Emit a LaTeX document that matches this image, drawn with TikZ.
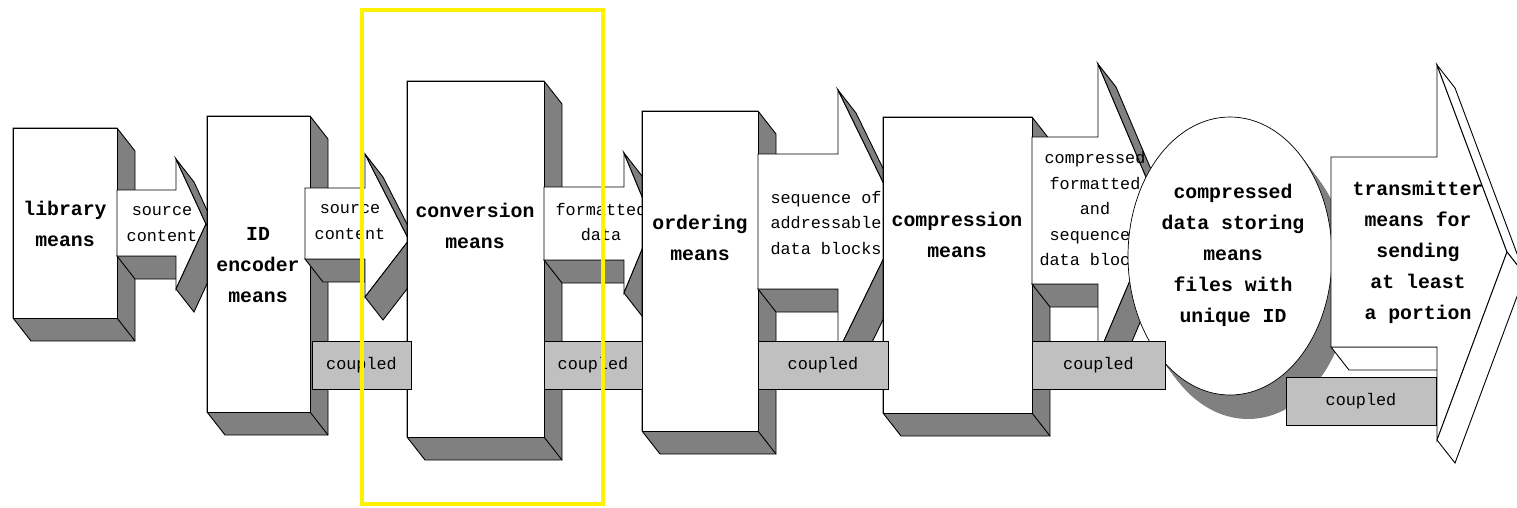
\documentclass[tikz,border=0pt]{standalone}
\usepackage{fontspec}
\setmonofont{Liberation Mono}

\definecolor{sidegrey}{RGB}{128,128,128}
\definecolor{coupledgrey}{RGB}{192,192,192}

% block seen from the front, depth to the lower right
\newcommand{\solidbox}[4]{%
  \filldraw[darkface] (#1,#2) -- (#3,#2) -- (#3+18,#2+23) -- (#3+18,#4+23) -- (#1+18,#4+23) -- (#1,#4) -- cycle;
  \draw (#3,#4) -- (#3+18,#4+23);
  \filldraw[fill=white] (#1,#2) rectangle (#3,#4);
}
% block arrow: tail x, body top, head x, body bottom, head top, tip x, tip y, head bottom, side style
\newcommand{\solidarrow}[9]{%
  \filldraw[#9] (#1,#4) -- (#3,#4) -- (#3+18,#4+23) -- (#1+18,#4+23) -- cycle;
  \filldraw[fill=white] (#1,#2) -- (#3,#2) -- (#3,#5) -- (#6,#7) -- (#3,#8) -- (#3,#4) -- (#1,#4) -- cycle;
  \filldraw[#9] (#3,#5) -- (#6,#7) -- (#6+18,#7+23) -- (#3+18,#5+23) -- cycle;
  \filldraw[#9] (#6,#7) -- (#3,#8) -- (#3+18,#8+23) -- (#6+18,#7+23) -- cycle;
}

\begin{document}
\begin{tikzpicture}[x=1pt, y=-1pt, line width=0.9pt,
    darkface/.style={fill=sidegrey, draw=black},
    whiteface/.style={fill=white, draw=black},
    boxlabel/.style={align=center, inner sep=0pt, font=\ttfamily\bfseries\fontsize{19.8}{31}\selectfont},
    flowlabel/.style={align=center, inner sep=0pt, font=\ttfamily\fontsize{16.8}{25.5}\selectfont},
    couplebox/.style={draw, fill=coupledgrey, minimum height=48pt, inner sep=0pt, font=\ttfamily\fontsize{16.8}{20}\selectfont}]
  \useasboundingbox (0,0) rectangle (1517,507);

  % Library
  \solidbox{13}{128}{117}{318}
  \node[boxlabel] (library) at (65,224) {library\\means};
  \solidarrow{117}{190}{176}{256}{159}{206}{224}{289}{darkface}
  \node[flowlabel] (source1) at (162,224) {source\\content};

  % ID encoder
  \solidbox{207}{116}{310}{412}
  \node[boxlabel] (encoder) at (258,265) {ID\\encoder\\means};
  \solidarrow{305}{188}{365}{259}{154}{409}{240}{297}{darkface}
  \node[flowlabel] (source2) at (350,222) {source\\content};

  % Conversion
  \solidbox{407}{81}{544}{437}
  \node[boxlabel] (conversion) at (475,226) {conversion\\means};
  \solidarrow{544}{187}{624}{260}{153}{653}{223}{293}{darkface}
  \node[flowlabel] (formatted) at (601,222) {formatted\\data};

  % Ordering
  \solidbox{642}{111}{758}{431}
  \node[boxlabel] (ordering) at (700,238) {ordering\\means};
  \solidarrow{758}{154}{838}{289}{90}{902}{221}{352}{darkface}
  \node[flowlabel] (sequence) at (826,223) {sequence of\\addressable\\data blocks};

  % Compression
  \solidbox{883}{117}{1032}{413}
  \node[boxlabel] (compression) at (957,235) {compression\\means};
  \solidarrow{1032}{137}{1098}{284}{64}{1160}{210}{356}{darkface}
  \node[flowlabel] (blocks) at (1095,209) {compressed\\formatted\\and\\sequenced\\data blocks};

  % Storing disc
  \foreach \t in {0,1,...,20}
    \fill[sidegrey] (1230+18*\t/20,256+24*\t/20) ellipse (102pt and 139pt);
  \filldraw[fill=white, line width=0.7pt] (1230,256) ellipse (102pt and 139pt);
  \node[boxlabel] (storing) at (1233,255) {compressed\\data storing\\means\\files with\\unique ID};

  % Transmitter
  \solidarrow{1331}{157}{1437}{347}{65}{1507}{252}{440}{whiteface}
  \node[boxlabel] (transmitter) at (1418,252) {transmitter\\means for\\sending\\at least\\a portion};

  % Couplings
  \node[couplebox, minimum width=99pt] (couple1) at (361.5,365) {coupled};
  \node[couplebox, minimum width=98pt] (couple2) at (593,365) {coupled};
  \node[couplebox, minimum width=130pt] (couple3) at (823,365) {coupled};
  \node[couplebox, minimum width=133pt] (couple4) at (1098.5,365) {coupled};
  \node[couplebox, minimum width=150pt] (couple5) at (1361,401) {coupled};

  % Highlight
  \draw[yellow, line width=4pt] (362,10) rectangle (603,504);
\end{tikzpicture}
\end{document}
